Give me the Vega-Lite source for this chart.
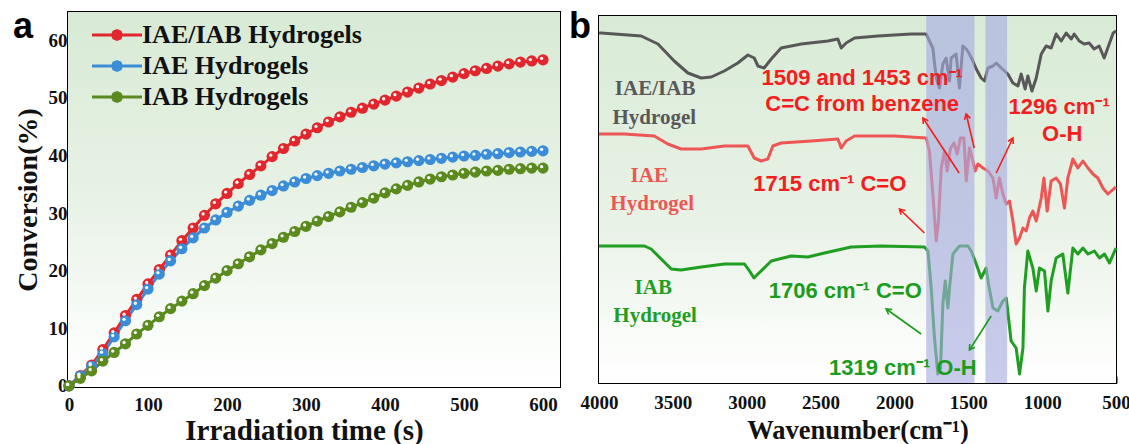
{
  "$schema": "https://vega.github.io/schema/vega-lite/v6.json",
  "background": "white",
  "padding": {"left": 12, "top": 8, "right": 5, "bottom": 0},
  "autosize": {"type": "pad"},
  "bounds": "flush",
  "center": true,
  "spacing": 39,
  "resolve": {"scale": {"color": "independent"}},
  "config": {
    "view": {"stroke": "black", "strokeWidth": 2},
    "axis": {"domain": false, "grid": false, "tickColor": "black", "tickWidth": 2, "labelFont": "Liberation Serif", "labelFontWeight": "bold", "labelFontSize": 19, "labelColor": "#111111", "titleFont": "Liberation Serif", "titleFontWeight": "bold", "titleFontSize": 26, "titleColor": "#111111", "labelFlush": false, "labelOverlap": false},
    "title": {"font": "Liberation Sans", "fontWeight": "bold", "fontSize": 36, "color": "black", "anchor": "start", "frame": "group", "baseline": "alphabetic"}
  },
  "datasets": {
    "conv": [
      {"t": 0, "IAE/IAB Hydrogels": 0, "IAE Hydrogels": 0, "IAB Hydrogels": 0},
      {"t": 14.29, "IAE/IAB Hydrogels": 1.8, "IAE Hydrogels": 1.7, "IAB Hydrogels": 1.3},
      {"t": 28.57, "IAE/IAB Hydrogels": 3.6, "IAE Hydrogels": 3.4, "IAB Hydrogels": 2.6},
      {"t": 42.86, "IAE/IAB Hydrogels": 6.3, "IAE Hydrogels": 5.6, "IAB Hydrogels": 4.3},
      {"t": 57.14, "IAE/IAB Hydrogels": 9.2, "IAE Hydrogels": 8.5, "IAB Hydrogels": 5.8},
      {"t": 71.43, "IAE/IAB Hydrogels": 12.2, "IAE Hydrogels": 11.3, "IAB Hydrogels": 7.3},
      {"t": 85.71, "IAE/IAB Hydrogels": 15.0, "IAE Hydrogels": 14.1, "IAB Hydrogels": 9.0},
      {"t": 100, "IAE/IAB Hydrogels": 17.7, "IAE Hydrogels": 16.8, "IAB Hydrogels": 10.5},
      {"t": 114.29, "IAE/IAB Hydrogels": 20.2, "IAE Hydrogels": 19.4, "IAB Hydrogels": 12.0},
      {"t": 128.57, "IAE/IAB Hydrogels": 22.7, "IAE Hydrogels": 21.7, "IAB Hydrogels": 13.4},
      {"t": 142.86, "IAE/IAB Hydrogels": 25.2, "IAE Hydrogels": 23.8, "IAB Hydrogels": 14.7},
      {"t": 157.14, "IAE/IAB Hydrogels": 27.4, "IAE Hydrogels": 25.7, "IAB Hydrogels": 16.0},
      {"t": 171.43, "IAE/IAB Hydrogels": 29.6, "IAE Hydrogels": 27.4, "IAB Hydrogels": 17.4},
      {"t": 185.71, "IAE/IAB Hydrogels": 31.6, "IAE Hydrogels": 28.8, "IAB Hydrogels": 18.7},
      {"t": 200, "IAE/IAB Hydrogels": 33.4, "IAE Hydrogels": 30.1, "IAB Hydrogels": 20.0},
      {"t": 214.29, "IAE/IAB Hydrogels": 35.1, "IAE Hydrogels": 31.2, "IAB Hydrogels": 21.2},
      {"t": 228.57, "IAE/IAB Hydrogels": 36.7, "IAE Hydrogels": 32.2, "IAB Hydrogels": 22.4},
      {"t": 242.86, "IAE/IAB Hydrogels": 38.2, "IAE Hydrogels": 33.1, "IAB Hydrogels": 23.6},
      {"t": 257.14, "IAE/IAB Hydrogels": 39.8, "IAE Hydrogels": 33.9, "IAB Hydrogels": 24.7},
      {"t": 271.43, "IAE/IAB Hydrogels": 41.2, "IAE Hydrogels": 34.7, "IAB Hydrogels": 25.8},
      {"t": 285.71, "IAE/IAB Hydrogels": 42.5, "IAE Hydrogels": 35.4, "IAB Hydrogels": 26.8},
      {"t": 300, "IAE/IAB Hydrogels": 43.7, "IAE Hydrogels": 36.0, "IAB Hydrogels": 27.7},
      {"t": 314.29, "IAE/IAB Hydrogels": 44.8, "IAE Hydrogels": 36.5, "IAB Hydrogels": 28.6},
      {"t": 328.57, "IAE/IAB Hydrogels": 45.8, "IAE Hydrogels": 36.9, "IAB Hydrogels": 29.4},
      {"t": 342.86, "IAE/IAB Hydrogels": 46.7, "IAE Hydrogels": 37.3, "IAB Hydrogels": 30.2},
      {"t": 357.14, "IAE/IAB Hydrogels": 47.5, "IAE Hydrogels": 37.6, "IAB Hydrogels": 31.0},
      {"t": 371.43, "IAE/IAB Hydrogels": 48.2, "IAE Hydrogels": 37.9, "IAB Hydrogels": 31.8},
      {"t": 385.71, "IAE/IAB Hydrogels": 48.9, "IAE Hydrogels": 38.2, "IAB Hydrogels": 32.6},
      {"t": 400, "IAE/IAB Hydrogels": 49.6, "IAE Hydrogels": 38.5, "IAB Hydrogels": 33.5},
      {"t": 414.29, "IAE/IAB Hydrogels": 50.3, "IAE Hydrogels": 38.7, "IAB Hydrogels": 34.2},
      {"t": 428.57, "IAE/IAB Hydrogels": 51.0, "IAE Hydrogels": 38.9, "IAB Hydrogels": 34.8},
      {"t": 442.86, "IAE/IAB Hydrogels": 51.7, "IAE Hydrogels": 39.1, "IAB Hydrogels": 35.4},
      {"t": 457.14, "IAE/IAB Hydrogels": 52.4, "IAE Hydrogels": 39.3, "IAB Hydrogels": 35.9},
      {"t": 471.43, "IAE/IAB Hydrogels": 53.0, "IAE Hydrogels": 39.5, "IAB Hydrogels": 36.3},
      {"t": 485.71, "IAE/IAB Hydrogels": 53.6, "IAE Hydrogels": 39.7, "IAB Hydrogels": 36.6},
      {"t": 500, "IAE/IAB Hydrogels": 54.2, "IAE Hydrogels": 39.9, "IAB Hydrogels": 36.9},
      {"t": 514.29, "IAE/IAB Hydrogels": 54.7, "IAE Hydrogels": 40.0, "IAB Hydrogels": 37.1},
      {"t": 528.57, "IAE/IAB Hydrogels": 55.1, "IAE Hydrogels": 40.2, "IAB Hydrogels": 37.3},
      {"t": 542.86, "IAE/IAB Hydrogels": 55.5, "IAE Hydrogels": 40.3, "IAB Hydrogels": 37.4},
      {"t": 557.14, "IAE/IAB Hydrogels": 55.9, "IAE Hydrogels": 40.5, "IAB Hydrogels": 37.6},
      {"t": 571.43, "IAE/IAB Hydrogels": 56.2, "IAE Hydrogels": 40.6, "IAB Hydrogels": 37.7},
      {"t": 585.71, "IAE/IAB Hydrogels": 56.4, "IAE Hydrogels": 40.7, "IAB Hydrogels": 37.8},
      {"t": 600, "IAE/IAB Hydrogels": 56.6, "IAE Hydrogels": 40.8, "IAB Hydrogels": 37.8}
    ],
    "ftir": [
      {"w": 4000, "v": 350, "s": "IAE/IAB"}, {"w": 3985, "v": 350, "s": "IAE/IAB"}, {"w": 3714, "v": 347, "s": "IAE/IAB"}, {"w": 3601, "v": 339, "s": "IAE/IAB"}, {"w": 3491, "v": 322, "s": "IAE/IAB"}, {"w": 3398, "v": 310, "s": "IAE/IAB"}, {"w": 3308, "v": 305, "s": "IAE/IAB"}, {"w": 3240, "v": 306, "s": "IAE/IAB"}, {"w": 3152, "v": 312, "s": "IAE/IAB"}, {"w": 3060, "v": 320, "s": "IAE/IAB"}, {"w": 2992, "v": 328, "s": "IAE/IAB"}, {"w": 2949, "v": 325, "s": "IAE/IAB"}, {"w": 2924, "v": 317, "s": "IAE/IAB"}, {"w": 2882, "v": 315, "s": "IAE/IAB"}, {"w": 2834, "v": 324, "s": "IAE/IAB"}, {"w": 2767, "v": 335, "s": "IAE/IAB"}, {"w": 2631, "v": 339, "s": "IAE/IAB"}, {"w": 2450, "v": 342, "s": "IAE/IAB"}, {"w": 2383, "v": 344, "s": "IAE/IAB"}, {"w": 2360, "v": 335, "s": "IAE/IAB"}, {"w": 2327, "v": 340, "s": "IAE/IAB"}, {"w": 2270, "v": 345, "s": "IAE/IAB"}, {"w": 2112, "v": 347, "s": "IAE/IAB"}, {"w": 1887, "v": 349, "s": "IAE/IAB"}, {"w": 1785, "v": 349, "s": "IAE/IAB"}, {"w": 1740, "v": 335, "s": "IAE/IAB"}, {"w": 1717, "v": 305, "s": "IAE/IAB"}, {"w": 1695, "v": 295, "s": "IAE/IAB"}, {"w": 1672, "v": 319, "s": "IAE/IAB"}, {"w": 1650, "v": 325, "s": "IAE/IAB"}, {"w": 1627, "v": 302, "s": "IAE/IAB"}, {"w": 1616, "v": 325, "s": "IAE/IAB"}, {"w": 1582, "v": 329, "s": "IAE/IAB"}, {"w": 1560, "v": 295, "s": "IAE/IAB"}, {"w": 1537, "v": 337, "s": "IAE/IAB"}, {"w": 1514, "v": 334, "s": "IAE/IAB"}, {"w": 1492, "v": 329, "s": "IAE/IAB"}, {"w": 1469, "v": 322, "s": "IAE/IAB"}, {"w": 1446, "v": 314, "s": "IAE/IAB"}, {"w": 1413, "v": 305, "s": "IAE/IAB"}, {"w": 1390, "v": 302, "s": "IAE/IAB"}, {"w": 1367, "v": 315, "s": "IAE/IAB"}, {"w": 1333, "v": 317, "s": "IAE/IAB"}, {"w": 1311, "v": 320, "s": "IAE/IAB"}, {"w": 1277, "v": 315, "s": "IAE/IAB"}, {"w": 1232, "v": 309, "s": "IAE/IAB"}, {"w": 1198, "v": 300, "s": "IAE/IAB"}, {"w": 1164, "v": 297, "s": "IAE/IAB"}, {"w": 1142, "v": 309, "s": "IAE/IAB"}, {"w": 1115, "v": 294, "s": "IAE/IAB"}, {"w": 1097, "v": 307, "s": "IAE/IAB"}, {"w": 1069, "v": 292, "s": "IAE/IAB"}, {"w": 1040, "v": 305, "s": "IAE/IAB"}, {"w": 1006, "v": 329, "s": "IAE/IAB"}, {"w": 973, "v": 337, "s": "IAE/IAB"}, {"w": 939, "v": 335, "s": "IAE/IAB"}, {"w": 905, "v": 349, "s": "IAE/IAB"}, {"w": 871, "v": 342, "s": "IAE/IAB"}, {"w": 837, "v": 350, "s": "IAE/IAB"}, {"w": 803, "v": 344, "s": "IAE/IAB"}, {"w": 783, "v": 349, "s": "IAE/IAB"}, {"w": 749, "v": 342, "s": "IAE/IAB"}, {"w": 715, "v": 339, "s": "IAE/IAB"}, {"w": 682, "v": 340, "s": "IAE/IAB"}, {"w": 648, "v": 334, "s": "IAE/IAB"}, {"w": 614, "v": 337, "s": "IAE/IAB"}, {"w": 580, "v": 325, "s": "IAE/IAB"}, {"w": 546, "v": 339, "s": "IAE/IAB"}, {"w": 519, "v": 350, "s": "IAE/IAB"}, {"w": 500, "v": 352, "s": "IAE/IAB"},
      {"w": 4000, "v": 249, "s": "IAE"}, {"w": 3985, "v": 249, "s": "IAE"}, {"w": 3829, "v": 249, "s": "IAE"}, {"w": 3626, "v": 247, "s": "IAE"}, {"w": 3534, "v": 239, "s": "IAE"}, {"w": 3444, "v": 234, "s": "IAE"}, {"w": 3308, "v": 234, "s": "IAE"}, {"w": 3152, "v": 237, "s": "IAE"}, {"w": 2992, "v": 237, "s": "IAE"}, {"w": 2949, "v": 225, "s": "IAE"}, {"w": 2902, "v": 222, "s": "IAE"}, {"w": 2857, "v": 224, "s": "IAE"}, {"w": 2823, "v": 237, "s": "IAE"}, {"w": 2767, "v": 240, "s": "IAE"}, {"w": 2563, "v": 242, "s": "IAE"}, {"w": 2383, "v": 244, "s": "IAE"}, {"w": 2360, "v": 235, "s": "IAE"}, {"w": 2327, "v": 242, "s": "IAE"}, {"w": 2270, "v": 247, "s": "IAE"}, {"w": 2000, "v": 247, "s": "IAE"}, {"w": 1785, "v": 245, "s": "IAE"}, {"w": 1763, "v": 232, "s": "IAE"}, {"w": 1740, "v": 189, "s": "IAE"}, {"w": 1717, "v": 142, "s": "IAE"}, {"w": 1702, "v": 162, "s": "IAE"}, {"w": 1683, "v": 215, "s": "IAE"}, {"w": 1661, "v": 232, "s": "IAE"}, {"w": 1643, "v": 212, "s": "IAE"}, {"w": 1620, "v": 235, "s": "IAE"}, {"w": 1597, "v": 240, "s": "IAE"}, {"w": 1575, "v": 229, "s": "IAE"}, {"w": 1553, "v": 245, "s": "IAE"}, {"w": 1530, "v": 245, "s": "IAE"}, {"w": 1514, "v": 202, "s": "IAE"}, {"w": 1492, "v": 235, "s": "IAE"}, {"w": 1469, "v": 222, "s": "IAE"}, {"w": 1453, "v": 212, "s": "IAE"}, {"w": 1435, "v": 219, "s": "IAE"}, {"w": 1401, "v": 215, "s": "IAE"}, {"w": 1367, "v": 212, "s": "IAE"}, {"w": 1333, "v": 205, "s": "IAE"}, {"w": 1311, "v": 185, "s": "IAE"}, {"w": 1289, "v": 205, "s": "IAE"}, {"w": 1266, "v": 189, "s": "IAE"}, {"w": 1243, "v": 179, "s": "IAE"}, {"w": 1221, "v": 182, "s": "IAE"}, {"w": 1198, "v": 162, "s": "IAE"}, {"w": 1176, "v": 139, "s": "IAE"}, {"w": 1153, "v": 145, "s": "IAE"}, {"w": 1130, "v": 155, "s": "IAE"}, {"w": 1108, "v": 152, "s": "IAE"}, {"w": 1086, "v": 165, "s": "IAE"}, {"w": 1063, "v": 172, "s": "IAE"}, {"w": 1040, "v": 162, "s": "IAE"}, {"w": 1006, "v": 185, "s": "IAE"}, {"w": 988, "v": 205, "s": "IAE"}, {"w": 966, "v": 172, "s": "IAE"}, {"w": 939, "v": 202, "s": "IAE"}, {"w": 905, "v": 205, "s": "IAE"}, {"w": 876, "v": 199, "s": "IAE"}, {"w": 849, "v": 175, "s": "IAE"}, {"w": 826, "v": 205, "s": "IAE"}, {"w": 792, "v": 224, "s": "IAE"}, {"w": 758, "v": 215, "s": "IAE"}, {"w": 724, "v": 222, "s": "IAE"}, {"w": 690, "v": 215, "s": "IAE"}, {"w": 656, "v": 209, "s": "IAE"}, {"w": 623, "v": 205, "s": "IAE"}, {"w": 589, "v": 195, "s": "IAE"}, {"w": 555, "v": 189, "s": "IAE"}, {"w": 532, "v": 192, "s": "IAE"}, {"w": 500, "v": 196, "s": "IAE"},
      {"w": 4000, "v": 137, "s": "IAB"}, {"w": 3985, "v": 137, "s": "IAB"}, {"w": 3692, "v": 137, "s": "IAB"}, {"w": 3647, "v": 134, "s": "IAB"}, {"w": 3511, "v": 114, "s": "IAB"}, {"w": 3444, "v": 113, "s": "IAB"}, {"w": 3308, "v": 116, "s": "IAB"}, {"w": 3150, "v": 119, "s": "IAB"}, {"w": 3015, "v": 119, "s": "IAB"}, {"w": 2981, "v": 112, "s": "IAB"}, {"w": 2951, "v": 105, "s": "IAB"}, {"w": 2924, "v": 109, "s": "IAB"}, {"w": 2834, "v": 122, "s": "IAB"}, {"w": 2699, "v": 127, "s": "IAB"}, {"w": 2586, "v": 126, "s": "IAB"}, {"w": 2473, "v": 130, "s": "IAB"}, {"w": 2293, "v": 136, "s": "IAB"}, {"w": 2090, "v": 137, "s": "IAB"}, {"w": 1797, "v": 136, "s": "IAB"}, {"w": 1773, "v": 132, "s": "IAB"}, {"w": 1751, "v": 95, "s": "IAB"}, {"w": 1729, "v": 45, "s": "IAB"}, {"w": 1706, "v": 9, "s": "IAB"}, {"w": 1688, "v": 15, "s": "IAB"}, {"w": 1672, "v": 79, "s": "IAB"}, {"w": 1656, "v": 102, "s": "IAB"}, {"w": 1638, "v": 75, "s": "IAB"}, {"w": 1627, "v": 95, "s": "IAB"}, {"w": 1604, "v": 129, "s": "IAB"}, {"w": 1560, "v": 137, "s": "IAB"}, {"w": 1503, "v": 137, "s": "IAB"}, {"w": 1480, "v": 132, "s": "IAB"}, {"w": 1446, "v": 119, "s": "IAB"}, {"w": 1413, "v": 105, "s": "IAB"}, {"w": 1379, "v": 115, "s": "IAB"}, {"w": 1363, "v": 99, "s": "IAB"}, {"w": 1333, "v": 75, "s": "IAB"}, {"w": 1300, "v": 72, "s": "IAB"}, {"w": 1266, "v": 82, "s": "IAB"}, {"w": 1243, "v": 85, "s": "IAB"}, {"w": 1210, "v": 42, "s": "IAB"}, {"w": 1176, "v": 35, "s": "IAB"}, {"w": 1153, "v": 9, "s": "IAB"}, {"w": 1130, "v": 35, "s": "IAB"}, {"w": 1120, "v": 95, "s": "IAB"}, {"w": 1097, "v": 132, "s": "IAB"}, {"w": 1063, "v": 115, "s": "IAB"}, {"w": 1040, "v": 92, "s": "IAB"}, {"w": 1018, "v": 115, "s": "IAB"}, {"w": 984, "v": 112, "s": "IAB"}, {"w": 961, "v": 72, "s": "IAB"}, {"w": 939, "v": 102, "s": "IAB"}, {"w": 905, "v": 125, "s": "IAB"}, {"w": 860, "v": 129, "s": "IAB"}, {"w": 826, "v": 90, "s": "IAB"}, {"w": 792, "v": 135, "s": "IAB"}, {"w": 758, "v": 129, "s": "IAB"}, {"w": 724, "v": 135, "s": "IAB"}, {"w": 690, "v": 129, "s": "IAB"}, {"w": 646, "v": 132, "s": "IAB"}, {"w": 612, "v": 125, "s": "IAB"}, {"w": 578, "v": 129, "s": "IAB"}, {"w": 544, "v": 120, "s": "IAB"}, {"w": 500, "v": 135, "s": "IAB"}
    ],
    "bands": [{"a": 1785, "b": 1458}, {"a": 1384, "b": 1237}],
    "serifLabels": [
      {"w": 3620, "v": 294, "t": "IAE/IAB", "c": "IAE/IAB"},
      {"w": 3626, "v": 265, "t": "Hydrogel", "c": "IAE/IAB"},
      {"w": 3660, "v": 207, "t": "IAE", "c": "IAE"},
      {"w": 3640, "v": 179, "t": "Hydrogel", "c": "IAE"},
      {"w": 3633, "v": 95, "t": "IAB", "c": "IAB"},
      {"w": 3620, "v": 67, "t": "Hydrogel", "c": "IAB"}
    ],
    "notes": [
      {"w": 2218, "v": 305, "t": "1509 and 1453 cm⁻¹", "c": "ann_r"},
      {"w": 2218, "v": 279, "t": "C=C from benzene", "c": "ann_r"},
      {"w": 885, "v": 276, "t": "1296 cm⁻¹", "c": "ann_r"},
      {"w": 864, "v": 249, "t": "O-H", "c": "ann_r"},
      {"w": 2438, "v": 199, "t": "1715 cm⁻¹ C=O", "c": "ann_r"},
      {"w": 2333, "v": 92, "t": "1706 cm⁻¹ C=O", "c": "ann_g"},
      {"w": 1943, "v": 15, "t": "1319 cm⁻¹ O-H", "c": "ann_g"}
    ],
    "arrows": [
      {"x1": 1562, "y1": 210, "x2": 1807, "y2": 265, "c": "ann_r"},
      {"x1": 1460, "y1": 235, "x2": 1514, "y2": 269, "c": "ann_r"},
      {"x1": 1311, "y1": 210, "x2": 1198, "y2": 245, "c": "ann_r"},
      {"x1": 1797, "y1": 150, "x2": 1966, "y2": 174, "c": "ann_r"},
      {"x1": 1819, "y1": 49, "x2": 2056, "y2": 74, "c": "ann_g"},
      {"x1": 1345, "y1": 67, "x2": 1492, "y2": 33, "c": "ann_g"}
    ]
  },
  "hconcat": [
    {
      "width": 492,
      "height": 375,
      "title": {"text": "a", "dx": -55, "offset": -34},
      "layer": [
        {
          "data": {"values": [{}]},
          "mark": {"type": "rect", "color": {"gradient": "linear", "x1": 0, "y1": 0, "x2": 0, "y2": 1, "stops": [{"offset": 0, "color": "#d8ead5"}, {"offset": 0.5, "color": "#e8f2e6"}, {"offset": 0.85, "color": "#f9fcf9"}, {"offset": 1, "color": "#ffffff"}]}},
          "encoding": {
            "x": {"datum": -1.3, "type": "quantitative", "scale": {"domain": [-1.3, 621.5], "nice": false, "zero": false}},
            "x2": {"datum": 621.5},
            "y": {"datum": -0.2, "type": "quantitative", "scale": {"domain": [-0.2, 64.9], "nice": false, "zero": false}},
            "y2": {"datum": 64.9}
          }
        },
        {
          "data": {"name": "conv"},
          "transform": [{"fold": ["IAE/IAB Hydrogels", "IAE Hydrogels", "IAB Hydrogels"], "as": ["s", "v"]}],
          "encoding": {
            "x": {"field": "t", "type": "quantitative", "scale": {"domain": [-1.3, 621.5], "nice": false, "zero": false},
              "title": "Irradiation time (s)",
              "axis": {"values": [0, 50, 100, 150, 200, 250, 300, 350, 400, 450, 500, 550, 600], "format": "d", "labelExpr": "datum.value % 100 === 0 ? datum.label : ''", "tickSize": {"condition": {"test": "datum.value % 100 === 0", "value": -7}, "value": -4}, "labelPadding": 15, "titlePadding": -1, "titleFontSize": 29, "titleX": 236}},
            "y": {"field": "v", "type": "quantitative", "scale": {"domain": [-0.2, 64.9], "nice": false, "zero": false},
              "title": "Conversion(%)",
              "axis": {"values": [0, 5, 10, 15, 20, 25, 30, 35, 40, 45, 50, 55, 60], "format": "d", "labelExpr": "datum.value % 10 === 0 ? datum.label : ''", "tickSize": {"condition": {"test": "datum.value % 10 === 0", "value": -7}, "value": -4}, "labelPadding": 8, "titlePadding": 6, "titleFontSize": 28}}
          },
          "layer": [
            {
              "mark": {"type": "line", "strokeWidth": 3},
              "encoding": {
                "color": {"field": "s", "type": "nominal",
                  "scale": {"domain": ["IAE/IAB Hydrogels", "IAE Hydrogels", "IAB Hydrogels"], "range": ["#e1262d", "#3a8dd6", "#5b8a1e"]},
                  "legend": {"orient": "none", "legendX": 36, "legendY": 10, "title": null, "padding": 0,
                    "symbolType": "M-5,0H-0.9M0.9,0H5M-0.9,0L-0.64,-0.64L0,-0.9L0.64,-0.64L0.9,0L0.64,0.64L0,0.9L-0.64,0.64Z",
                    "symbolSize": 100, "symbolStrokeWidth": 3, "labelOffset": 12, "rowPadding": 5, "labelLimit": 0,
                    "labelFont": "Liberation Serif", "labelFontSize": 26, "labelFontWeight": "bold", "labelColor": "#111111"}
                }
              }
            },
            {
              "mark": {"type": "point", "filled": true, "size": 125, "opacity": 1},
              "encoding": {"color": {"field": "s", "type": "nominal", "legend": null}}
            },
            {
              "mark": {"type": "point", "filled": true, "size": 11, "color": "white", "opacity": 0.95, "xOffset": -1.4, "yOffset": -1.4},
              "encoding": {}
            }
          ]
        }
      ]
    },
    {
      "width": 517,
      "height": 367,
      "title": {"text": "b", "dx": -30, "offset": -30},
      "encoding": {
        "x": {"type": "quantitative"},
        "y": {"type": "quantitative"}
      },
      "layer": [
        {
          "data": {"values": [{}]},
          "mark": {"type": "rect", "color": {"gradient": "linear", "x1": 0, "y1": 0, "x2": 0, "y2": 1, "stops": [{"offset": 0, "color": "#d9ebd6"}, {"offset": 0.55, "color": "#e8f2e6"}, {"offset": 0.85, "color": "#f8fbf7"}, {"offset": 1, "color": "#ffffff"}]}},
          "encoding": {
            "x": {"datum": 4000, "type": "quantitative", "scale": {"domain": [500, 4000], "reverse": true, "nice": false, "zero": false}},
            "x2": {"datum": 500},
            "y": {"datum": 0, "type": "quantitative", "scale": {"domain": [0, 367], "nice": false, "zero": false}, "axis": null},
            "y2": {"datum": 367}
          }
        },
        {
          "data": {"name": "ftir"},
          "mark": {"type": "line", "strokeWidth": 3, "strokeJoin": "round"},
          "encoding": {
            "x": {"field": "w", "type": "quantitative", "scale": {"domain": [500, 4000], "reverse": true, "nice": false, "zero": false},
              "title": "Wavenumber(cm⁻¹)",
              "axis": {"values": [500, 750, 1000, 1250, 1500, 1750, 2000, 2250, 2500, 2750, 3000, 3250, 3500, 3750, 4000], "format": "d", "labelExpr": "datum.value % 500 === 0 ? datum.label : ''", "tickSize": {"condition": {"test": "datum.value % 500 === 0", "value": -7}, "value": -4}, "labelPadding": 17, "titlePadding": 5, "titleFontSize": 26.5}},
            "y": {"field": "v", "type": "quantitative", "scale": {"domain": [0, 367], "nice": false, "zero": false}, "axis": null},
            "color": {"field": "s", "type": "nominal",
              "scale": {"domain": ["IAE/IAB", "IAE", "IAB", "ann_r", "ann_g"], "range": ["#585858", "#ee5656", "#1f9e22", "#f41e1e", "#1c9c1c"]}, "legend": null}
          }
        },
        {
          "data": {"name": "bands"},
          "mark": {"type": "rect", "color": "#a6abe0", "opacity": 0.62},
          "encoding": {
            "x": {"field": "a", "type": "quantitative"},
            "x2": {"field": "b"},
            "y": {"datum": 0, "type": "quantitative"},
            "y2": {"datum": 367}
          }
        },
        {
          "data": {"name": "arrows"},
          "mark": {"type": "rule", "strokeWidth": 1.6},
          "encoding": {
            "x": {"field": "x1", "type": "quantitative"},
            "x2": {"field": "x2"},
            "y": {"field": "y1", "type": "quantitative"},
            "y2": {"field": "y2"},
            "color": {"field": "c", "type": "nominal", "legend": null}
          }
        },
        {
          "data": {"name": "arrows"},
          "transform": [{"calculate": "(atan2(-(datum.x2 - datum.x1) * 517 / 3500, datum.y2 - datum.y1) * 180 / PI + 360) % 360", "as": "ang"}],
          "mark": {"type": "point", "shape": "M-0.75,1.3L0,0L0.75,1.3", "filled": false, "strokeWidth": 1.6, "size": 64, "opacity": 1},
          "encoding": {
            "x": {"field": "x2", "type": "quantitative"},
            "y": {"field": "y2", "type": "quantitative"},
            "angle": {"field": "ang", "type": "quantitative", "scale": null},
            "color": {"field": "c", "type": "nominal", "legend": null}
          }
        },
        {
          "data": {"name": "serifLabels"},
          "mark": {"type": "text", "font": "Liberation Serif", "fontWeight": "bold", "fontSize": 21, "align": "center", "baseline": "middle"},
          "encoding": {
            "x": {"field": "w", "type": "quantitative"},
            "y": {"field": "v", "type": "quantitative"},
            "text": {"field": "t"},
            "color": {"field": "c", "type": "nominal", "legend": null}
          }
        },
        {
          "data": {"name": "notes"},
          "mark": {"type": "text", "font": "Liberation Sans", "fontWeight": "bold", "fontSize": 22, "align": "center", "baseline": "middle"},
          "encoding": {
            "x": {"field": "w", "type": "quantitative"},
            "y": {"field": "v", "type": "quantitative"},
            "text": {"field": "t"},
            "color": {"field": "c", "type": "nominal", "legend": null}
          }
        }
      ]
    }
  ]
}
